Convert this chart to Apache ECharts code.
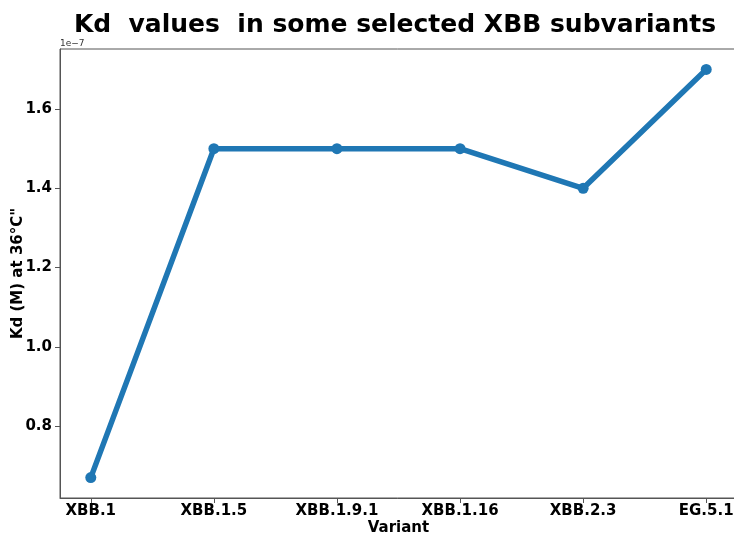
<!DOCTYPE html>
<html>
<head>
<meta charset="utf-8">
<script src="https://cdn.jsdelivr.net/npm/echarts@6/dist/echarts.min.js"></script>
<style>html,body{margin:0;padding:0;background:#fff}#c{width:734px;height:533px}</style>
</head>
<body>
<div id="c"></div>
<script>
const variants = ["XBB.1", "XBB.1.5", "XBB.1.9.1", "XBB.1.16", "XBB.2.3", "EG.5.1"];
const kdValues = [0.67, 1.5, 1.5, 1.5, 1.4, 1.7]; // in units of 1e-7 M
const yTicks = [0.8, 1.0, 1.2, 1.4, 1.6];
const titleText = "Kd  values  in some selected XBB subvariants";
const yName = "Kd (M) at 36°C\"";
const xName = "Variant";
const offsetText = "1e\u22127";

const xIdx = variants.map((_, i) => i);
const dMin = Math.min(...kdValues), dMax = Math.max(...kdValues);
const pad = (dMax - dMin) * 0.05;
const font = "DejaVu Sans";

const chart = echarts.init(document.getElementById('c'), null, {renderer: 'canvas'});
chart.setOption({
  animation: false,
  title: {
    text: titleText,
    left: 390, top: 8, textAlign: 'center',
    textStyle: {fontFamily: font, fontWeight: 'bold', fontSize: 25, color: '#000'}
  },
  graphic: [{
    type: 'text', left: 60, top: 39,
    style: {text: offsetText, fontFamily: font, fontSize: 9, fill: '#333'}
  }],
  grid: {left: 60, top: 49, width: 677, height: 449, containLabel: false, outerBoundsMode: 'none', show: true, borderColor: '#555', borderWidth: 1},
  xAxis: {
    type: 'value', min: -0.25, max: variants.length - 0.75,
    name: xName, nameLocation: 'middle', nameGap: 23, nameMoveOverlap: false,
    nameTextStyle: {fontFamily: font, fontWeight: 'bold', fontSize: 15, color: '#000'},
    axisLine: {show: true, onZero: false, lineStyle: {color: '#555', width: 1}},
    axisTick: {show: true, length: 5, lineStyle: {color: '#555'}, customValues: xIdx},
    axisLabel: {
      fontFamily: font, fontWeight: 'bold', fontSize: 15, color: '#000', margin: 6,
      customValues: xIdx,
      formatter: v => variants[Math.round(v)] || ''
    },
    splitLine: {show: false}
  },
  yAxis: {
    type: 'value', min: dMin - pad, max: dMax + pad,
    name: yName, nameLocation: 'middle', nameGap: 34, nameRotate: 90, nameMoveOverlap: false,
    nameTextStyle: {fontFamily: font, fontWeight: 'bold', fontSize: 15, color: '#000'},
    axisLine: {show: true, onZero: false, lineStyle: {color: '#555', width: 1}},
    axisTick: {show: true, length: 5, lineStyle: {color: '#555'}, customValues: yTicks},
    axisLabel: {
      fontFamily: font, fontWeight: 'bold', fontSize: 15, color: '#000', margin: 8,
      customValues: yTicks,
      formatter: v => v.toFixed(1)
    },
    splitLine: {show: false}
  },
  series: [{
    type: 'line',
    data: xIdx.map((i) => [i, kdValues[i]]),
    symbol: 'circle', symbolSize: 11,
    lineStyle: {color: '#1f77b4', width: 5.5},
    itemStyle: {color: '#1f77b4'},
    clip: false
  }]
});
</script>
</body>
</html>
